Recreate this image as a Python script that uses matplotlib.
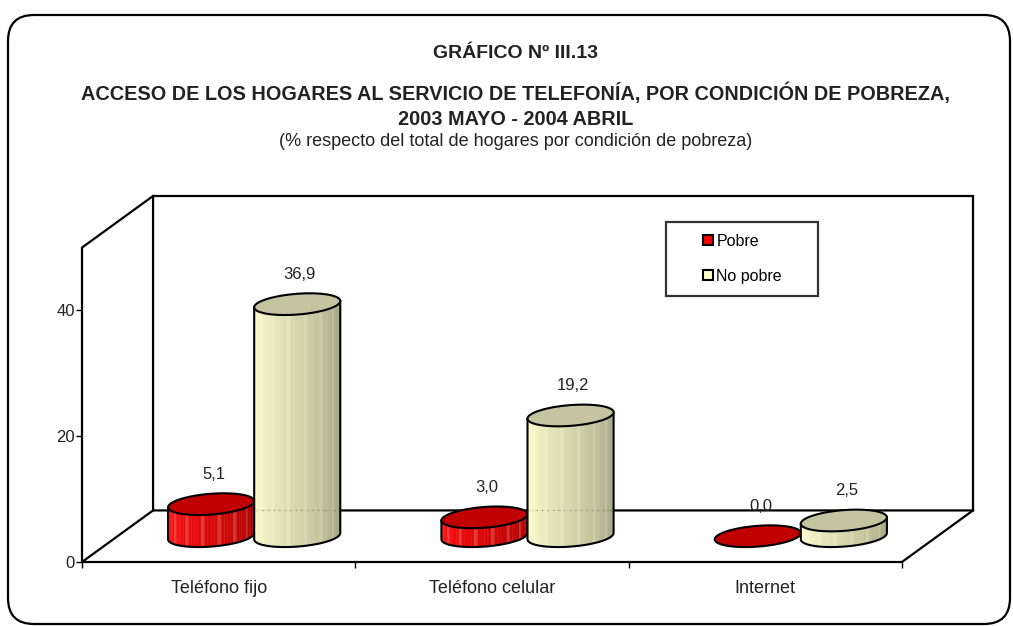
import numpy as np
import matplotlib.pyplot as plt
from matplotlib.patches import Polygon, FancyBboxPatch
from matplotlib.lines import Line2D
from matplotlib.transforms import IdentityTransform
from matplotlib.colors import to_rgb

plt.rcParams['font.family'] = ['Liberation Sans Narrow', 'Liberation Sans', 'DejaVu Sans']

categories = ['Teléfono fijo', 'Teléfono celular', 'Internet']
series = ['Pobre', 'No pobre']
pobre = [5.1, 3.0, 0.0]
no_pobre = [36.9, 19.2, 2.5]
yticks = [0, 20, 40]

# colores: (lado claro, lado oscuro, tapa)
colors = {
    'Pobre': ('#ff1010', '#a00000', '#c00000'),
    'No pobre': ('#ffffd0', '#9a9a78', '#c4c4a0'),
}
legend_colors = {'Pobre': '#ff0000', 'No pobre': '#ffffcc'}

DX, DY = 0.26, 8.2      # profundidad del "3D"
YMAX = 50
W = 0.315               # ancho de cada cilindro
EB = 1.65               # semieje vertical de la elipse
SHEAR = 3.2             # inclinacion de la elipse


def mix(c1, c2, f):
    c1, c2 = np.array(to_rgb(c1)), np.array(to_rgb(c2))
    return tuple(np.clip(c1 + (c2 - c1) * f, 0, 1))


def cylinder(ax, cx, base, h, cols, z):
    a = W / 2
    t = np.linspace(np.pi, 2 * np.pi, 41)
    xs = cx + a * np.cos(t)
    ey = EB * np.sin(t) + SHEAR * a * np.cos(t)
    if h > 0:
        n = len(t) - 1
        for k in range(n):
            f = (k + 0.5) / n
            c = mix(cols[0], cols[1], f ** 1.3)
            if k % 5 == 2:
                c = mix(c, '#ffffff', 0.18)   # rayitas claras
            pts = [(xs[k], base + ey[k]), (xs[k + 1], base + ey[k + 1]),
                   (xs[k + 1], base + h + ey[k + 1]), (xs[k], base + h + ey[k])]
            ax.add_patch(Polygon(pts, closed=True, fc=c, ec=c, lw=0.3,
                                 zorder=z, clip_on=False))
        # contorno lateral
        ox = np.concatenate([[xs[0]], xs, [xs[-1]]])
        oy = np.concatenate([[base + h + ey[0]], base + ey, [base + h + ey[-1]]])
        ax.plot(ox, oy, color='black', lw=1.5, zorder=z + 0.2,
                solid_joinstyle='round', clip_on=False)
    tt = np.linspace(0, 2 * np.pi, 120)
    top = np.column_stack([cx + a * np.cos(tt),
                           base + h + EB * np.sin(tt) + SHEAR * a * np.cos(tt)])
    ax.add_patch(Polygon(top, closed=True, fc=cols[2], ec='black', lw=1.5,
                         zorder=z + 0.3, clip_on=False))


fig = plt.figure(figsize=(10.13, 6.26), dpi=100)
ax = fig.add_axes([82 / 1013, 64 / 626, 891 / 1013, 366 / 626])
ax.set_xlim(0, 3 + DX)
ax.set_ylim(0, YMAX + DY)
for sp in ax.spines.values():
    sp.set_visible(False)
ax.patch.set_visible(False)

# paredes y piso
wall = dict(color='black', lw=1.6, zorder=1, clip_on=False, solid_joinstyle='miter')
ax.plot([0, 0, DX, 3 + DX, 3 + DX, DX, DX], [0, YMAX, YMAX + DY, YMAX + DY, DY, DY, YMAX + DY], **wall)
ax.plot([DX, 0, 3, 3 + DX], [DY, 0, 0, DY], **wall)

# cilindros
base = DY / 2
for i, cat in enumerate(categories):
    cc = i + 0.5 + DX / 2
    for j, (name, vals) in enumerate(zip(series, [pobre, no_pobre])):
        cx = cc + (j - 0.5) * W
        v = vals[i]
        cylinder(ax, cx, base, v, colors[name], z=3 + i * 2 + j)
        if name == 'No pobre' and base + v > DY:
            ax.plot([cx - W / 2 + 0.03, cx + W / 2 - 0.01], [DY, DY], color='#8a8a70',
                    lw=0.8, ls=(0, (1, 4)), zorder=3 + i * 2 + j + 0.25)
        ax.text(cx + 0.01, base + v + 4.7, f'{v:.1f}'.replace('.', ','),
                ha='center', va='center', fontsize=12, color='#222222', zorder=20)

# ejes
ax.set_yticks(yticks)
ax.set_yticklabels([str(t) for t in yticks])
ax.tick_params(axis='y', length=4, width=1, pad=1, labelsize=12, labelcolor='#222222')
ax.set_xticks([0, 1, 2, 3])
ax.set_xticklabels([])
ax.tick_params(axis='x', which='major', length=4, width=1, direction='out')
ax.set_xticks([0.5, 1.5, 2.5], minor=True)
ax.set_xticklabels(categories, minor=True)
ax.tick_params(axis='x', which='minor', length=0, pad=13, labelsize=13, labelcolor='#222222')

# leyenda
handles = [Line2D([], [], ls='none', marker='s', markersize=7.5,
                  markerfacecolor=legend_colors[s], markeredgecolor='black',
                  markeredgewidth=1.5) for s in series]
leg = fig.legend(handles, series, loc='upper left',
                 bbox_to_anchor=(666 / 1013, 1 - 222 / 626, 152 / 1013, 0), mode='expand',
                 fontsize=11.5, frameon=True, fancybox=False, borderpad=0.75,
                 handlelength=3.7, handletextpad=-1.3, labelspacing=1.25,
                 borderaxespad=0)
leg.get_frame().set_edgecolor('black')
leg.get_frame().set_linewidth(1.6)

# titulos
fig.text(0.509, 1 - 58 / 626, 'GRÁFICO Nº III.13', ha='center', va='baseline',
         fontsize=14, fontweight='bold', color='#222222')
fig.text(0.509, 1 - 100 / 626,
         'ACCESO DE LOS HOGARES AL SERVICIO DE TELEFONÍA, POR CONDICIÓN DE POBREZA,',
         ha='center', va='baseline', fontsize=14.3, fontweight='bold', color='#222222')
fig.text(0.509, 1 - 125 / 626, '2003 MAYO - 2004 ABRIL', ha='center', va='baseline',
         fontsize=14.3, fontweight='bold', color='#222222')
fig.text(0.509, 1 - 146 / 626,
         '(% respecto del total de hogares por condición de pobreza)',
         ha='center', va='baseline', fontsize=13, color='#222222')

# marco redondeado
fig.patches.append(FancyBboxPatch((8, 2), 1002, 609, boxstyle='round,pad=0,rounding_size=26',
                                  transform=IdentityTransform(), fc='none', ec='black', lw=1.6))

fig.savefig('out.png', dpi=100)
